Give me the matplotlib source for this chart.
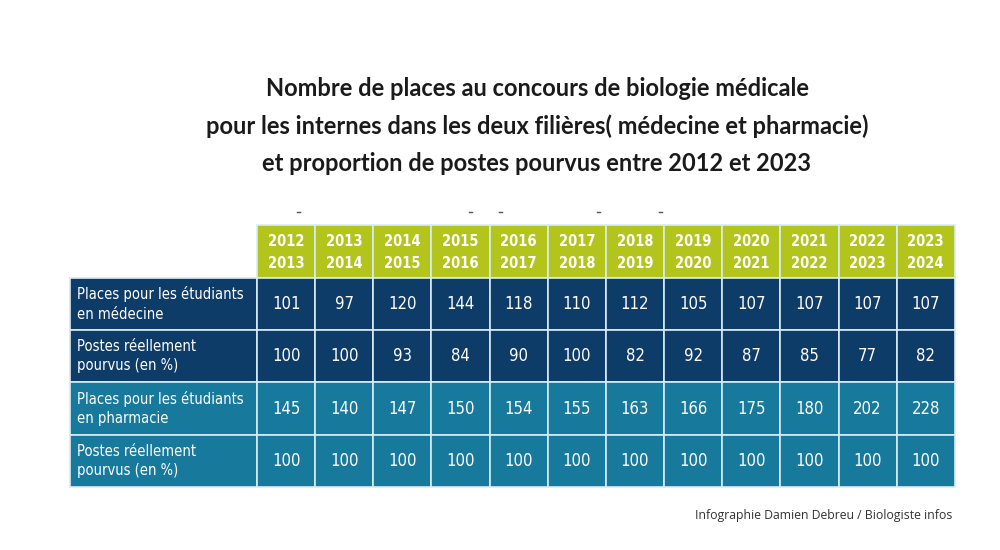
import matplotlib.pyplot as plt
from matplotlib.patches import Rectangle
from matplotlib.font_manager import FontProperties

years = ['2012\n2013', '2013\n2014', '2014\n2015', '2015\n2016', '2016\n2017', '2017\n2018',
         '2018\n2019', '2019\n2020', '2020\n2021', '2021\n2022', '2022\n2023', '2023\n2024']
row_labels = ['Places pour les étudiants\nen médecine',
              'Postes réellement\npourvus (en %)',
              'Places pour les étudiants\nen pharmacie',
              'Postes réellement\npourvus (en %)']
places_medecine = [101, 97, 120, 144, 118, 110, 112, 105, 107, 107, 107, 107]
pourvus_medecine = [100, 100, 93, 84, 90, 100, 82, 92, 87, 85, 77, 82]
places_pharmacie = [145, 140, 147, 150, 154, 155, 163, 166, 175, 180, 202, 228]
pourvus_pharmacie = [100, 100, 100, 100, 100, 100, 100, 100, 100, 100, 100, 100]
rows = [places_medecine, pourvus_medecine, places_pharmacie, pourvus_pharmacie]

title = ("Nombre de places au concours de biologie médicale\n"
         "pour les internes dans les deux filières( médecine et pharmacie)\n"
         "et proportion de postes pourvus entre 2012 et 2023")
credit = "Infographie Damien Debreu / Biologiste infos"

green = '#b3c41c'
navy = '#0e3c68'
teal = '#17799b'
row_colors = [navy, navy, teal, teal]
line_col = '#d8ecf4'

cond_bold = FontProperties(family='DejaVu Sans', stretch='condensed', weight='bold', size=10.5)
cond_num = FontProperties(family='DejaVu Sans', stretch='condensed', size=12)
cond_lab = FontProperties(family='DejaVu Sans', stretch='condensed', size=10.5)

fig = plt.figure(figsize=(10, 5.5), dpi=100)
ax = fig.add_axes([0, 0, 1, 1])
ax.set_xlim(0, 1000)
ax.set_ylim(550, 0)
ax.axis('off')

x0, label_w, col_w = 70, 187, 58.15
y_head, head_h, row_h = 225, 53, 52.2

# header
for j, yr in enumerate(years):
    x = x0 + label_w + j * col_w
    ax.add_patch(Rectangle((x, y_head), col_w, head_h, facecolor=green,
                           edgecolor=line_col, linewidth=1.2))
    ax.text(x + col_w / 2, y_head + head_h / 2 + 1, yr, ha='center', va='center',
            color='white', fontproperties=cond_bold, linespacing=1.5)

# body
for i, (lab, vals) in enumerate(zip(row_labels, rows)):
    y = y_head + head_h + i * row_h
    ax.add_patch(Rectangle((x0, y), label_w, row_h, facecolor=row_colors[i],
                           edgecolor=line_col, linewidth=1.2))
    ax.text(x0 + 7, y + row_h / 2, lab, ha='left', va='center', color='white',
            fontproperties=cond_lab, linespacing=1.35)
    for j, v in enumerate(vals):
        x = x0 + label_w + j * col_w
        ax.add_patch(Rectangle((x, y), col_w, row_h, facecolor=row_colors[i],
                               edgecolor=line_col, linewidth=1.2))
        ax.text(x + col_w / 2, y + row_h / 2, str(v), ha='center', va='center',
                color='white', fontproperties=cond_num)

# small stray marks above the header
for mx in [298, 470, 500, 598, 660]:
    ax.plot([mx - 1.5, mx + 1.5], [212, 212], color='#555555', linewidth=1)

ax.text(537, 126, title, ha='center', va='center', fontsize=17, fontweight='bold',
        family=['Lato', 'DejaVu Sans'], color='#1a1a1a', linespacing=1.72)
ax.text(952, 516, credit, ha='right', va='center', fontsize=8.8,
        family=['Open Sans', 'DejaVu Sans'], color='#333333')

fig.savefig('out.png', dpi=100)
